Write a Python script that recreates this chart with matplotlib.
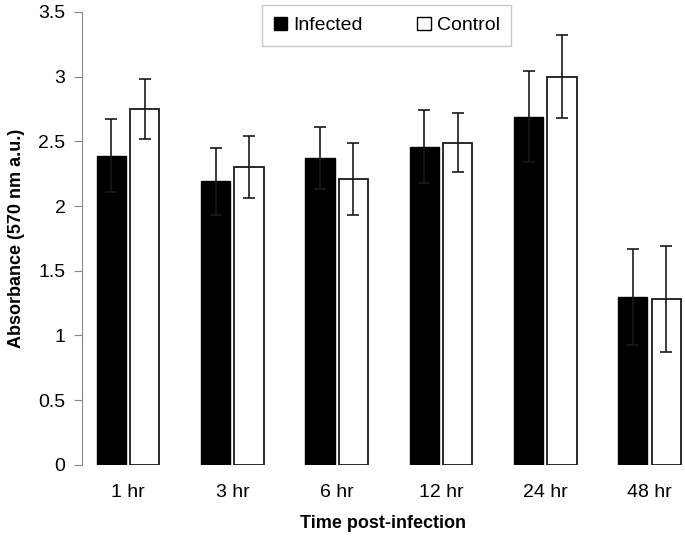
import matplotlib.pyplot as plt
import numpy as np
from matplotlib.patches import Patch

times = ["1 hr", "3 hr", "6 hr", "12 hr", "24 hr", "48 hr"]
infected = [2.39, 2.19, 2.37, 2.46, 2.69, 1.30]
infected_err = [0.28, 0.26, 0.24, 0.28, 0.35, 0.37]
control = [2.75, 2.30, 2.21, 2.49, 3.00, 1.28]
control_err = [0.23, 0.24, 0.28, 0.23, 0.32, 0.41]
yticks = [0, 0.5, 1, 1.5, 2, 2.5, 3, 3.5]
ytick_labels = ["0", "0.5", "1", "1.5", "2", "2.5", "3", "3.5"]

plt.rcParams["font.family"] = ["Liberation Sans", "DejaVu Sans"]

fig = plt.figure(figsize=(6.85, 5.4), dpi=100)
ax = fig.add_axes([0.12, 0.139, 0.877, 0.839])

x = np.arange(len(times))
w = 0.28
err_style = dict(ecolor="#1a1a1a", elinewidth=1.2, capsize=4, capthick=1.2)
ax.bar(x - 0.16, infected, w, color="black", edgecolor="black", linewidth=1.0,
       yerr=infected_err, error_kw=err_style)
ax.bar(x + 0.16, control, w, color="white", edgecolor="#1a1a1a", linewidth=1.3,
       yerr=control_err, error_kw=err_style)

ax.set_xlim(-0.44, 5.32)
ax.set_ylim(0, 3.5)
ax.set_yticks(yticks, ytick_labels)
ax.set_xticks(x, times)
ax.tick_params(axis="y", direction="out", length=6, color="#888888", labelsize=14, pad=6)
ax.tick_params(axis="x", length=0, labelsize=14, pad=14)
for s in ["top", "right", "bottom"]:
    ax.spines[s].set_visible(False)
ax.spines["left"].set_color("#888888")

ax.set_xlabel("Time post-infection", fontsize=13, fontweight="bold", labelpad=10)
ax.set_ylabel("Absorbance (570 nm a.u.)", fontsize=13, fontweight="bold", labelpad=10)

handles = [Patch(facecolor="black", edgecolor="black"),
           Patch(facecolor="white", edgecolor="black")]
leg = ax.legend(handles, ["Infected", "Control"], loc="upper center", ncol=2,
                bbox_to_anchor=(0.507, 1.015), frameon=True, fancybox=False,
                fontsize=14, handlelength=0.7, handleheight=0.7, handletextpad=0.3,
                columnspacing=2.8, borderpad=0.6, borderaxespad=0)
leg.get_frame().set_edgecolor("#BBBBBB")
leg.get_frame().set_linewidth(1.0)
for t in leg.get_texts():
    t.set_x(0)

fig.savefig("out.png", dpi=100, facecolor="white")
